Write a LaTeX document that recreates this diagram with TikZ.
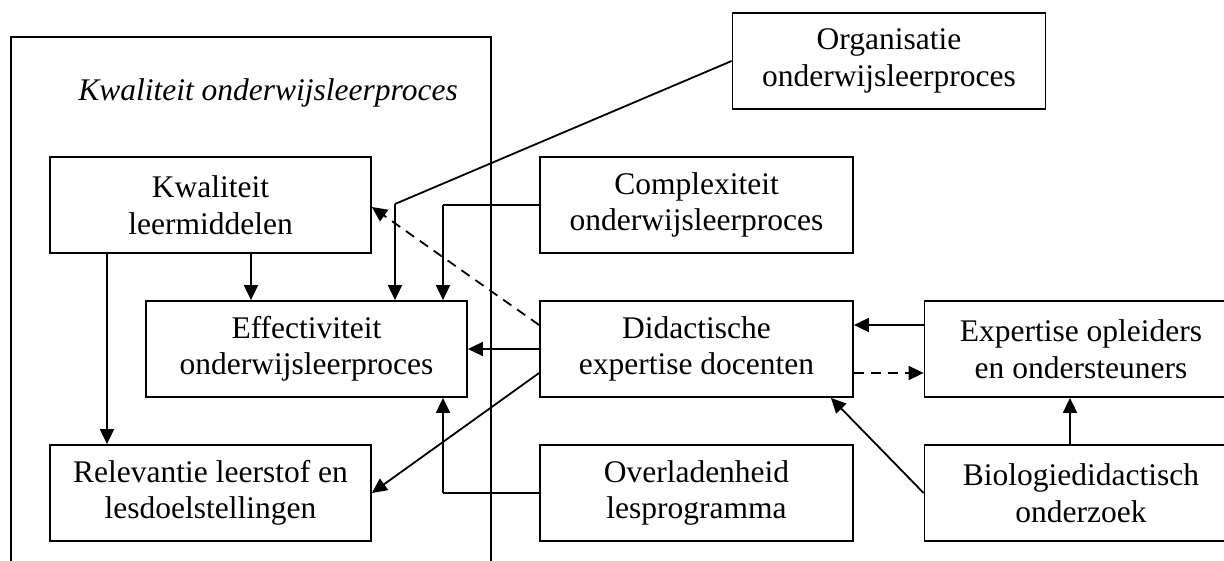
\documentclass[tikz,border=0pt]{standalone}
\usepackage{fontspec}
\setmainfont{Liberation Serif}
\usetikzlibrary{arrows.meta}

\begin{document}
\begin{tikzpicture}[x=1pt, y=-1pt,
  every node/.style={font=\fontsize{31.5pt}{36.5pt}\selectfont},
  box/.style={draw, line width=1.8pt, inner sep=0pt, align=center,
              minimum height=96pt, minimum width=313pt},
  wbox/.style={box, minimum width=321pt},
  frameline/.style={line width=1.5pt},
  arr/.style={line width=1.8pt, -{Triangle[length=15pt, width=14pt]}},
  link/.style={line width=1.8pt},
  dasharr/.style={arr, dash pattern=on 10pt off 7pt}
]
\useasboundingbox (0,0) rectangle (1224,560);
\clip (0,0) rectangle (1224,560);

% outer frame (open at the bottom)
\draw[frameline] (11,562) -- (11,37) -- (491,37) -- (491,562);
\node (title) at (268,93) {\itshape Kwaliteit onderwijsleerproces};

% left column
\node[wbox] (kl)  at (210.5,205) {Kwaliteit\\leermiddelen};
\node[wbox] (eff) at (306.5,349) {Effectiviteit\\onderwijsleerproces};
\node[wbox] (rel) at (210.5,493) {Relevantie leerstof en\\lesdoelstellingen};

% middle column
\node[box] (org) at (889,61)    {Organisatie\\onderwijsleerproces};
\node[box] (cpx) at (696.5,205) {Complexiteit\\onderwijsleerproces};
\node[box] (did) at (696.5,349) {Didactische\\expertise docenten};
\node[box] (ovl) at (696.5,493) {Overladenheid\\lesprogramma};

% right column
\node[box] (exp) at (1081,349) {Expertise opleiders\\en ondersteuners};
\node[box] (bio) at (1081,493) {Biologiedidactisch\\onderzoek};

% bend points
\coordinate (c1) at (395,204);
\coordinate (c2) at (443,205);

% influences on effectiveness
\draw[link] (org.west) -- (c1);
\draw[arr] (c1) -- (c1 |- eff.north);
\draw[link] (cpx.west) -- (c2);
\draw[arr] (c2) -- (c2 |- eff.north);
\draw[arr] ([xshift=40.5pt]kl.south) -- ([xshift=40.5pt]kl.south |- eff.north);
\draw[arr] ([xshift=-103.5pt]kl.south) -- ([xshift=-103.5pt]kl.south |- rel.north);
\draw[arr] (did.west) -- (did.west -| eff.east);
\draw[dasharr] ([yshift=24pt]did.west) -- ([yshift=-2pt]kl.east);
\draw[arr] ([yshift=-24pt]did.west) -- (rel.east);
\draw[link] (ovl.west) -- (c2 |- ovl.west);
\draw[arr] (c2 |- ovl.west) -- (c2 |- eff.south);

% expertise and research
\draw[arr] ([yshift=24pt]exp.west) -- ([yshift=24pt]exp.west -| did.east);
\draw[dasharr] ([yshift=-24pt]did.east) -- ([yshift=-24pt]did.east -| exp.west);
\draw[arr] ([xshift=-11pt]bio.north) -- ([xshift=-11pt]bio.north |- exp.south);
\draw[arr] (bio.west) -- ([xshift=-23pt]did.south east);
\end{tikzpicture}
\end{document}
